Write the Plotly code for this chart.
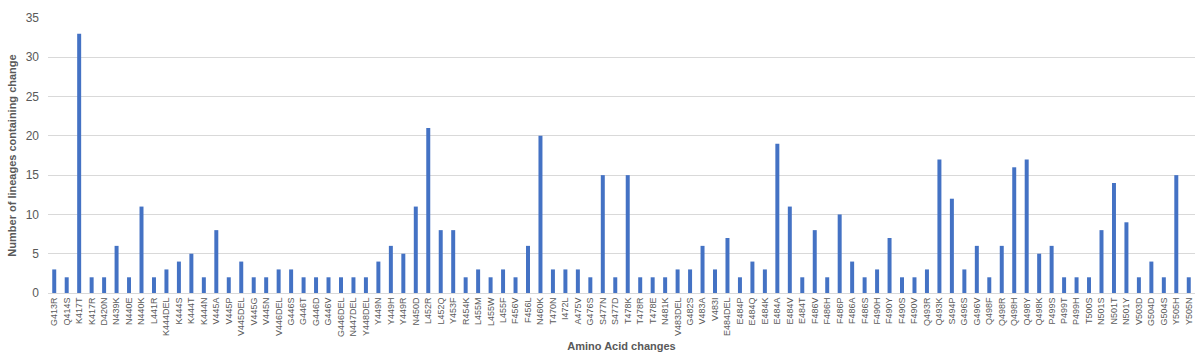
import plotly.graph_objects as go

categories = ["G413R", "Q414S", "K417T", "K417R", "D420N", "N439K", "N440E", "N440K", "L441R",
              "K444DEL", "K444S", "K444T", "K444N", "V445A", "V445P", "V445DEL", "V445G", "V445N",
              "V446DEL", "G446S", "G446T", "G446D", "G446V", "G446DEL", "N447DEL", "Y448DEL",
              "Y449N", "Y449H", "Y449R", "N450D", "L452R", "L452Q", "Y453F", "R454K", "L455M",
              "L455W", "L455F", "F456V", "F456L", "N460K", "T470N", "I472L", "A475V", "G476S",
              "S477N", "S477D", "T478K", "T478R", "T478E", "N481K", "V483DEL", "G482S", "V483A",
              "V483I", "E484DEL", "E484P", "E484Q", "E484K", "E484A", "E484V", "E484T", "F486V",
              "F486H", "F486P", "F486A", "F486S", "F490H", "F490Y", "F490S", "F490V", "Q493R",
              "Q493K", "S494P", "G496S", "G496V", "Q498F", "Q498R", "Q498H", "Q498Y", "Q498K",
              "P499S", "P499T", "P499H", "T500S", "N501S", "N501T", "N501Y", "V503D", "G504D",
              "G504S", "Y505H", "Y505N"]

counts = [3, 2, 33, 2, 2, 6, 2, 11, 2,
          3, 4, 5, 2, 8, 2, 4, 2, 2,
          3, 3, 2, 2, 2, 2, 2, 2,
          4, 6, 5, 11, 21, 8, 8, 2, 3,
          2, 3, 2, 6, 20, 3, 3, 3, 2,
          15, 2, 15, 2, 2, 2, 3, 3, 6,
          3, 7, 2, 4, 3, 19, 11, 2, 8,
          2, 10, 4, 2, 3, 7, 2, 2, 3,
          17, 12, 3, 6, 2, 6, 16, 17, 5,
          6, 2, 2, 2, 8, 14, 9, 2, 4,
          2, 15, 2]

y_ticks = [0, 5, 10, 15, 20, 25, 30, 35]

fig = go.Figure(go.Bar(
    x=categories,
    y=counts,
    marker=dict(color="#4472C4", line=dict(width=0)),
))

fig.update_layout(
    width=1200,
    height=361,
    margin=dict(l=48, r=5, t=18, b=68),
    paper_bgcolor="white",
    plot_bgcolor="white",
    bargap=0.68,
    showlegend=False,
    font=dict(family="Liberation Sans, Arial, sans-serif", color="#595959"),
    xaxis=dict(
        type="category",
        tickangle=-90,
        tickfont=dict(size=9, color="#595959"),
        showgrid=False,
        showline=True,
        linecolor="#d9d9d9",
        linewidth=1,
        ticks="",
        title=dict(text="<b>Amino Acid changes</b>", font=dict(size=11, color="#595959"), standoff=6),
        automargin=False,
    ),
    yaxis=dict(
        range=[0, 35],
        tickvals=y_ticks,
        tickfont=dict(size=12, color="#595959"),
        showgrid=True,
        gridcolor="#d9d9d9",
        gridwidth=1,
        zeroline=False,
        showline=False,
        ticks="",
        ticklabelstandoff=8,
        title=dict(text="<b>Number of lineages containing change</b>", font=dict(size=11, color="#595959"), standoff=6),
        automargin=False,
    ),
)

fig.write_html(
    "out.html",
    config={"displayModeBar": False},
    post_script="document.body.style.margin='0';document.body.style.overflow='hidden';",
)
